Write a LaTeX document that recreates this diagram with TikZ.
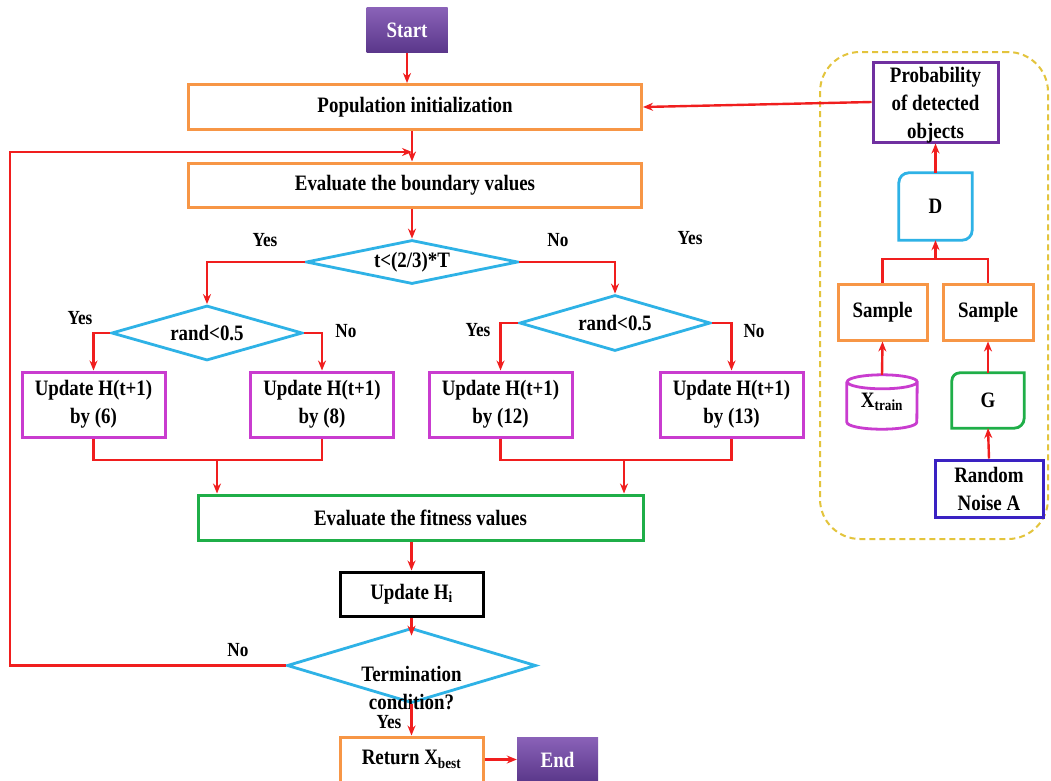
\documentclass[tikz,border=0pt]{standalone}
\usepackage{fontspec}
\setmainfont{Liberation Serif}[FakeStretch=0.86]
\usetikzlibrary{shapes.geometric,arrows.meta,calc}
\definecolor{cred}{HTML}{F01E1E}
\definecolor{corange}{HTML}{F79646}
\definecolor{ccyan}{HTML}{2EB2E6}
\definecolor{cmag}{HTML}{C93CCF}
\definecolor{cgreen}{HTML}{1FAE48}
\definecolor{cpurple}{HTML}{7030A0}
\definecolor{cviolet}{HTML}{3A22C2}
\definecolor{cyellow}{HTML}{E3C43C}
\definecolor{cstartT}{HTML}{8A62B8}
\definecolor{cstartB}{HTML}{5A378A}
\begin{document}
\begin{tikzpicture}[x=1pt,y=-1pt,
  every node/.style={font=\bfseries\fontsize{22}{28}\selectfont, inner sep=0pt, align=center},
  box/.style={draw, rectangle, line width=3pt},
  obox/.style={box, draw=corange},
  mbox/.style={box, draw=cmag, minimum width=143pt, minimum height=65pt},
  dia/.style={draw=ccyan, diamond, aspect=5, line width=2.8pt},
  term/.style={fill=cstartB, top color=cstartT, bottom color=cstartB, text=white, minimum width=81pt, minimum height=45pt},
  lbl/.style={font=\bfseries\fontsize{20}{22}\selectfont},
  conn/.style={draw=cred, line width=2.4pt},
  arr/.style={conn, -{Stealth[length=10pt,width=8pt]}},
  bord/.style={line width=2.8pt}
]
\useasboundingbox (0,0) rectangle (1051,780);
\fill[white] (0,0) rectangle (1051,780);

% main flow
\node[term] (Start) at (407,30) {Start};
\node[obox, minimum width=453pt, minimum height=45pt] (Pop) at (415,107) {Population initialization};
\node[obox, minimum width=453pt, minimum height=44pt] (Eval) at (415,185) {Evaluate the boundary values};
\node[dia, minimum width=212pt, minimum height=44pt] (Dia1) at (412,262) {t<(2/3)*T};
\node[dia, minimum width=191pt, minimum height=55pt] (Dia2) at (207,333) {rand<0.5};
\node[dia, minimum width=191pt, minimum height=56pt] (Dia3) at (615,323) {rand<0.5};
\node[mbox] (B1) at (93.5,404.5) {Update H(t+1)\\by (6)};
\node[mbox] (B2) at (322,404.5) {Update H(t+1)\\by (8)};
\node[mbox] (B3) at (500.5,404.5) {Update H(t+1)\\by (12)};
\node[mbox] (B4) at (731.5,404.5) {Update H(t+1)\\by (13)};
\node[box, draw=cgreen, minimum width=445pt, minimum height=45pt] (Fit) at (420.5,517.5) {Evaluate the fitness values};
\node[box, draw=black, minimum width=143pt, minimum height=44pt] (UpdHi) at (411.5,594) {Update H\textsubscript{i}};
\node[dia, minimum width=249pt, minimum height=75pt] (Term) at (411.5,665.5) {};
\node (TermTxt) at (411.5,688) {Termination\\condition?};
\node[obox, minimum width=143pt, minimum height=45pt] (Ret) at (411.5,759.5) {Return X\textsubscript{best}};
\node[term] (End) at (557.5,759.5) {End};

% labels
\node[lbl] (LYes1) at (265,240) {Yes};
\node[lbl] (LNo1) at (558,240) {No};
\node[lbl] (LYesX) at (690,238) {Yes};
\node[lbl] (LYes2) at (80,318) {Yes};
\node[lbl] (LNo2) at (346,331) {No};
\node[lbl] (LYes3) at (478,330) {Yes};
\node[lbl] (LNo3) at (754,331) {No};
\node[lbl] (LNo4) at (238,650) {No};
\node[lbl] (LYes4) at (389,722) {Yes};

% connectors main
\draw[arr] (Start.south) -- (Start.south |- Pop.north);
\coordinate (LoopEnd) at (412,152);
\draw[arr] (Pop.south -| Dia1.north) -- (Dia1.north |- Eval.north);
\draw[arr] (Eval.south -| Dia1.north) -- (Dia1.north);
\draw[arr] (Term.west) -- (10,665.5) -- (10,152) -- (LoopEnd);
\draw[arr] (Dia1.west) -| (Dia2.north);
\draw[arr] (Dia1.east) -| (Dia3.north);
\draw[arr] (Dia2.west) -| (B1.north);
\draw[arr] (Dia2.east) -| (B2.north);
\draw[arr] (Dia3.west) -| (B3.north);
\draw[arr] (Dia3.east) -| (B4.north);
\coordinate (ML) at (217,460);
\coordinate (MR) at (624,460);
\draw[conn] (B1.south) -- (B1.south |- ML) -| (B2.south);
\draw[conn] (B3.south) -- (B3.south |- MR) -| (B4.south);
\draw[arr] (ML) -- (ML |- Fit.north);
\draw[arr] (MR) -- (MR |- Fit.north);
\draw[arr] (UpdHi.north |- Fit.south) -- (UpdHi.north);
\draw[arr] (UpdHi.south) -- ([yshift=-9pt]Term.north);
\draw[arr] (Term.south) -- (Ret.north);
\draw[arr] (Ret.east) -- (End.west);

% right panel
\node[draw=cyellow, line width=2pt, dash pattern=on 6pt off 4pt, rounded corners=40pt, minimum width=228pt, minimum height=487pt] (Panel) at (934,295.5) {};
\node[box, draw=cpurple, minimum width=125pt, minimum height=80pt] (Prob) at (935.5,102) {};
\node (ProbTxt) at (935.5,105) {Probability\\of detected\\objects};
\node[minimum width=73pt, minimum height=67pt] (D) at (935.5,206.5) {D};
\draw[ccyan, bord] (D.south west) -- ([yshift=-10pt]D.north west) arc[start angle=180,end angle=90,radius=10pt] -- (D.north east) -- ([yshift=10pt]D.south east) arc[start angle=0,end angle=-90,radius=10pt] -- cycle;
\node[obox, minimum width=89pt, minimum height=56pt] (S1) at (882.5,312) {Sample};
\node[obox, minimum width=90pt, minimum height=56pt] (S2) at (988,312) {Sample};
\node[minimum width=70pt, minimum height=54pt] (Xt) at (882,402) {X\textsubscript{train}};
\draw[cmag, bord] ([yshift=-7pt]Xt.north west) -- ([yshift=7pt]Xt.south west) arc[start angle=180,end angle=360,x radius=35pt,y radius=7pt] -- ([yshift=-7pt]Xt.north east) arc[start angle=0,end angle=180,x radius=35pt,y radius=7pt] arc[start angle=180,end angle=360,x radius=35pt,y radius=7pt];
\node[minimum width=72pt, minimum height=55pt] (G) at (988,400.5) {G};
\draw[cgreen, bord] (G.south west) -- ([yshift=-8pt]G.north west) arc[start angle=180,end angle=90,radius=8pt] -- (G.north east) -- ([yshift=10pt]G.south east) arc[start angle=0,end angle=-90,radius=10pt] -- cycle;
\node[box, draw=cviolet, minimum width=108pt, minimum height=57pt] (RN) at (989,488.5) {Random\\Noise A};

\draw[arr] (Prob.west) -- (Pop.east);
\draw[arr] (D.north -| Prob.south) -- (Prob.south);
\coordinate (MD) at (935.5,259);
\draw[conn] (S1.north) -- (S1.north |- MD) -| (S2.north);
\draw[arr] (MD) -- (D.south);
\draw[arr] (Xt.north) -- (S1.south);
\draw[arr] (G.north) -- (S2.south);
\draw[arr] (RN.north) -- (G.south);
\end{tikzpicture}
\end{document}
